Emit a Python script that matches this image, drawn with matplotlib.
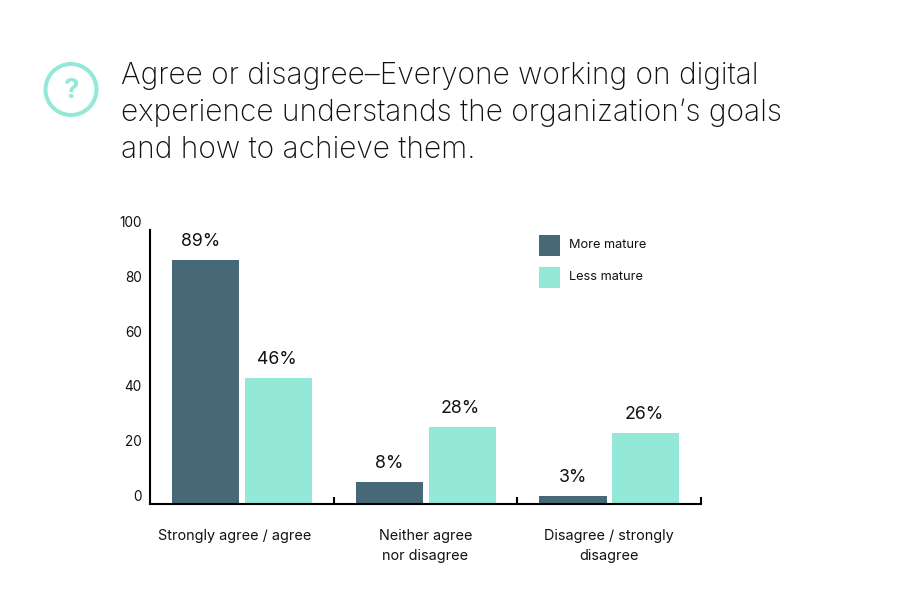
import numpy as np
import matplotlib
matplotlib.use('Agg')
import matplotlib.pyplot as plt
from matplotlib.patches import Circle, Rectangle

plt.rcParams['font.family'] = ['Inter', 'DejaVu Sans']

categories = ['Strongly agree / agree', 'Neither agree\nnor disagree', 'Disagree / strongly\ndisagree']
series_names = ['More mature', 'Less mature']
more_mature = [89, 8, 3]
less_mature = [46, 28, 26]
y_ticks = [0, 20, 40, 60, 80, 100]
title_lines = ['Agree or disagree\u2013Everyone working on digital',
               'experience understands the organization\u2019s goals',
               'and how to achieve them.']

W, H = 914, 614
DARK = '#466877'
MINT = '#94E8D7'

fig = plt.figure(figsize=(W / 100, H / 100), dpi=100)

# overlay in pixel coords for the title, icon and legend
bg = fig.add_axes([0, 0, 1, 1])
bg.set_xlim(0, W)
bg.set_ylim(H, 0)
bg.axis('off')

bg.add_patch(Circle((71, 89.5), 25.5, fill=False, edgecolor=MINT, linewidth=2.9))
bg.text(71.5, 91, '?', color=MINT, fontsize=20, fontweight='bold', ha='center', va='center')

for i, line in enumerate(title_lines):
    bg.text(121, 76.5 + i * 36.5, line, color='#111111', fontsize=21.5, fontweight='light',
            ha='left', va='center')

# main chart
ax = fig.add_axes([150 / W, 1 - 504 / H, (701 - 150) / W, (504 - 230) / H])
ax.patch.set_alpha(0)
x = 0.5 + np.arange(len(categories)) * 1.0
bar_w = 0.365
ax.bar(x - 0.197, more_mature, bar_w, color=DARK)
ax.bar(x + 0.199, less_mature, bar_w, color=MINT)

for i in range(len(categories)):
    # first label sits a bit left of its bar in the original
    shift = -0.027 if i == 0 else 0
    ax.text(x[i] - 0.199 + shift, more_mature[i] + 3.7, '%d%%' % more_mature[i], ha='center', va='bottom',
            fontsize=12.8, color='#111111')
    ax.text(x[i] + 0.199 - 0.008, less_mature[i] + 3.7, '%d%%' % less_mature[i], ha='center', va='bottom',
            fontsize=12.8, color='#111111')

ax.set_xlim(0, 3)
ax.set_ylim(0, 100)
ax.spines['top'].set_visible(False)
ax.spines['right'].set_visible(False)
ax.spines['left'].set_linewidth(1.5)
ax.spines['bottom'].set_linewidth(1.5)

ax.set_yticks(y_ticks)
ax.set_yticklabels([str(t) for t in y_ticks], fontsize=9.8, color='#111111', va='center')
ax.tick_params(axis='y', length=0, pad=6)
# labels sit just above their tick position
for lab in ax.get_yticklabels():
    lab.set_transform(lab.get_transform() + matplotlib.transforms.ScaledTranslation(0, 7 / 100, fig.dpi_scale_trans))

ax.set_xticks([1, 2, 3])
ax.set_xticklabels([])
ax.tick_params(axis='x', direction='in', length=5, width=1.5)

for i, name in enumerate(categories):
    ax.text(x[i] - 0.04 * (i == 0), -9.2, name, ha='center', va='top', fontsize=10.4,
            color='#111111', linespacing=1.5)

# legend
for i, name in enumerate(series_names):
    bg.add_patch(Rectangle((539, 235 + i * 32), 21, 21, facecolor=[DARK, MINT][i], edgecolor='none'))
    bg.text(569, 245 + i * 32, name, fontsize=9.2, color='#111111', ha='left', va='center')

fig.savefig('out.png', dpi=100)
